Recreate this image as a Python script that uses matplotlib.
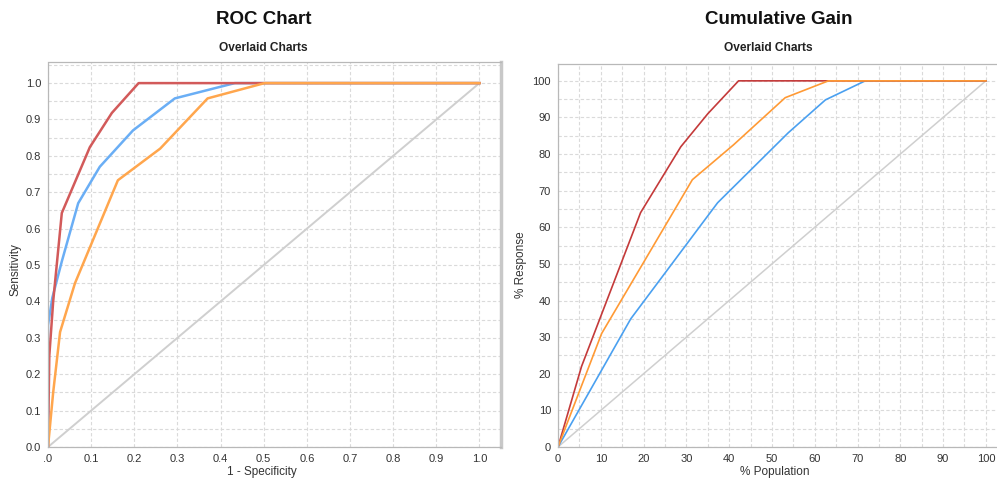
import matplotlib
matplotlib.use("Agg")
import matplotlib.pyplot as plt
from matplotlib.ticker import MultipleLocator

plt.rcParams['font.family'] = ['Liberation Sans', 'DejaVu Sans']

# ROC curves (1 - specificity, sensitivity)
roc_red_x = [0.0, 0.003, 0.012, 0.032, 0.097, 0.148, 0.21, 0.50, 1.0]
roc_red_y = [0.0, 0.25, 0.40, 0.643, 0.824, 0.918, 1.0, 1.0, 1.0]
roc_blue_x = [0.0, 0.0, 0.01, 0.032, 0.07, 0.12, 0.197, 0.294, 0.433, 1.0]
roc_blue_y = [0.0, 0.335, 0.41, 0.51, 0.67, 0.77, 0.87, 0.958, 1.0, 1.0]
roc_orange_x = [0.0, 0.012, 0.028, 0.0625, 0.162, 0.26, 0.37, 0.502, 1.0]
roc_orange_y = [0.0, 0.15, 0.316, 0.45, 0.733, 0.82, 0.958, 1.0, 1.0]

# Cumulative gain curves (% population, % response)
gain_red_x = [0, 5.5, 19.3, 28.7, 35, 42.2, 63, 100]
gain_red_y = [0, 22, 64, 82, 91, 100, 100, 100]
gain_orange_x = [0, 10.2, 31.4, 41, 53.1, 63.2, 100]
gain_orange_y = [0, 31, 73, 82.5, 95.4, 100, 100]
gain_blue_x = [0, 17, 37.3, 53.8, 62.5, 71.8, 100]
gain_blue_y = [0, 35, 66.7, 85.8, 94.8, 100, 100]

roc_ticks = [0.0, 0.1, 0.2, 0.3, 0.4, 0.5, 0.6, 0.7, 0.8, 0.9, 1.0]
roc_xlabels = ['.0', '0.1', '0.2', '0.3', '0.4', '0.5', '0.6', '0.7', '0.8', '0.9', '1.0']
roc_ylabels = ['0.0', '0.1', '0.2', '0.3', '0.4', '0.5', '0.6', '0.7', '0.8', '0.9', '1.0']
gain_ticks = [0, 10, 20, 30, 40, 50, 60, 70, 80, 90, 100]
gain_labels = ['0', '10', '20', '30', '40', '50', '60', '70', '80', '90', '100']

RED_ROC, BLUE_ROC, ORANGE_ROC = '#d25a5a', '#6aaef5', '#ffa64d'
RED_G, BLUE_G, ORANGE_G = '#c43a3a', '#4aa0f0', '#ff9a35'
DIAG = '#cfcfcf'
GRID = '#dadada'

W, H = 997, 479
fig = plt.figure(figsize=(W / 100, H / 100), dpi=100)


def box(l, t, r, b):
    return [l / W, 1 - b / H, (r - l) / W, (b - t) / H]


def style(ax):
    ax.set_facecolor('white')
    ax.grid(True, which='both', color=GRID, linestyle=(0, (3, 2)), linewidth=0.8)
    ax.set_axisbelow(True)
    for s in ['top', 'bottom', 'left']:
        ax.spines[s].set_color('#b8b8b8')
        ax.spines[s].set_linestyle((0, (1, 1)))
        ax.spines[s].set_linewidth(0.9)
    ax.tick_params(axis='both', which='both', length=0, pad=5,
                   labelsize=8, labelcolor='#333333')


# ROC chart
ax1 = fig.add_axes(box(48, 62, 501, 447))
style(ax1)
ax1.spines['right'].set_color('#c8c8c8')
ax1.spines['right'].set_linewidth(2.5)
ax1.plot([0, 1], [0, 1], color=DIAG, lw=1.4)
ax1.plot(roc_blue_x, roc_blue_y, color=BLUE_ROC, lw=1.8)
ax1.plot(roc_red_x, roc_red_y, color=RED_ROC, lw=1.8)
ax1.plot(roc_orange_x, roc_orange_y, color=ORANGE_ROC, lw=1.8)
ax1.set_xlim(0, 1.05)
ax1.set_ylim(0, 1.058)
ax1.set_xticks(roc_ticks)
ax1.set_xticklabels(roc_xlabels)
ax1.set_yticks(roc_ticks)
ax1.set_yticklabels(roc_ylabels)
ax1.yaxis.set_minor_locator(MultipleLocator(0.05))
ax1.tick_params(axis='y', which='minor', length=0)

# Cumulative gain chart
ax2 = fig.add_axes(box(558, 64, 997, 447))
style(ax2)
ax2.spines['right'].set_visible(False)
ax2.plot([0, 100], [0, 100], color=DIAG, lw=1.1)
ax2.plot(gain_blue_x, gain_blue_y, color=BLUE_G, lw=1.2)
ax2.plot(gain_red_x, gain_red_y, color=RED_G, lw=1.2)
ax2.plot(gain_orange_x, gain_orange_y, color=ORANGE_G, lw=1.2)
ax2.set_xlim(0, 102.6)
ax2.set_ylim(0, 104.6)
ax2.set_xticks(gain_ticks)
ax2.set_xticklabels(gain_labels)
ax2.set_yticks(gain_ticks)
ax2.set_yticklabels(gain_labels)
ax2.xaxis.set_minor_locator(MultipleLocator(5))
ax2.yaxis.set_minor_locator(MultipleLocator(5))
ax2.tick_params(axis='both', which='minor', length=0)

# Titles and axis labels
fig.text(264 / W, 1 - 20 / H, 'ROC Chart', ha='center', va='center',
         fontsize=13.5, fontweight='bold', color='#111111')
fig.text(263 / W, 1 - 48 / H, 'Overlaid Charts', ha='center', va='center',
         fontsize=8.6, fontweight='bold', color='#222222')
fig.text(779 / W, 1 - 20 / H, 'Cumulative Gain', ha='center', va='center',
         fontsize=13.5, fontweight='bold', color='#111111')
fig.text(768 / W, 1 - 48 / H, 'Overlaid Charts', ha='center', va='center',
         fontsize=8.6, fontweight='bold', color='#222222')
fig.text(262 / W, 1 - 472 / H, '1 - Specificity', ha='center', va='center',
         fontsize=8.5, color='#333333')
fig.text(775 / W, 1 - 472 / H, '% Population', ha='center', va='center',
         fontsize=8.5, color='#333333')
fig.text(16 / W, 1 - 270 / H, 'Sensitivity', ha='center', va='center',
         fontsize=8.5, color='#333333', rotation=90)
fig.text(521 / W, 1 - 265 / H, '% Response', ha='center', va='center',
         fontsize=8.5, color='#333333', rotation=90)

fig.savefig('out.png', dpi=100, facecolor='white')
